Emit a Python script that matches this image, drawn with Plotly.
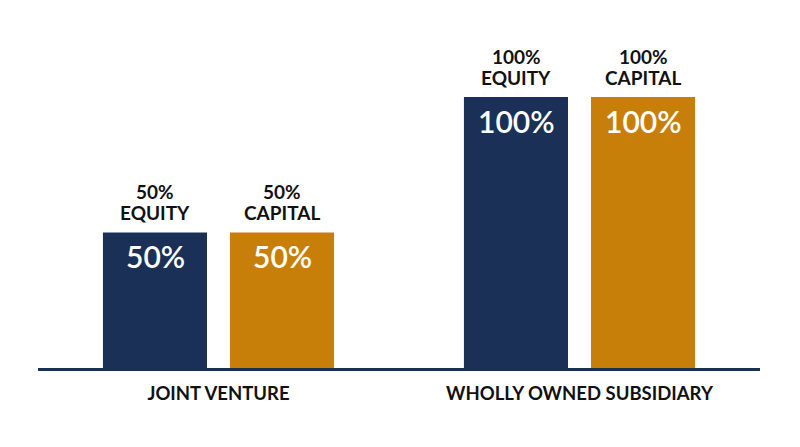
import plotly.graph_objects as go

categories = ["JOINT VENTURE", "WHOLLY OWNED SUBSIDIARY"]
equity = [50, 100]
capital = [50, 100]
series_names = ["EQUITY", "CAPITAL"]

navy = "#1a3057"
gold = "#c77f0a"

fig = go.Figure()
fig.add_trace(go.Bar(x=categories, y=equity, name="EQUITY", marker=dict(color=navy, line=dict(width=0))))
fig.add_trace(go.Bar(x=categories, y=capital, name="CAPITAL", marker=dict(color=gold, line=dict(width=0))))

# labels above and inside the bars (two lines kept tight as separate annotations)
offsets = [-63.5, 63.5]
lbl_font = dict(family="Lato", size=19, color="#111111", weight="bold")
for vals, name, dx in zip([equity, capital], series_names, offsets):
    for cat, v in zip(categories, vals):
        fig.add_annotation(x=cat, y=v, xshift=dx, yshift=6, yanchor="bottom", showarrow=False,
                           text=name, font=lbl_font)
        fig.add_annotation(x=cat, y=v, xshift=dx, yshift=27, yanchor="bottom", showarrow=False,
                           text=f"{v}%", font=lbl_font)
        fig.add_annotation(x=cat, y=v, xshift=dx, yshift=-4, yanchor="top", showarrow=False,
                           text=f"{v}%", font=dict(family="Lato", size=30, color="white", weight=600))

# page body adds an 8px offset, margins compensate for it
fig.update_layout(
    width=800, height=447,
    margin=dict(l=30, r=48, t=0, b=87),
    paper_bgcolor="white", plot_bgcolor="white",
    barmode="group", bargap=0.296, bargroupgap=0.181,
    showlegend=False,
)
fig.update_xaxes(showline=True, linecolor=navy, linewidth=2.5, ticks="", ticklabelstandoff=7,
                 tickfont=dict(family="Lato", size=18.5, color="#111111", weight="bold"))
fig.update_yaxes(range=[0, 132.8], visible=False, showgrid=False, zeroline=False)

fig.write_html("out.html")
